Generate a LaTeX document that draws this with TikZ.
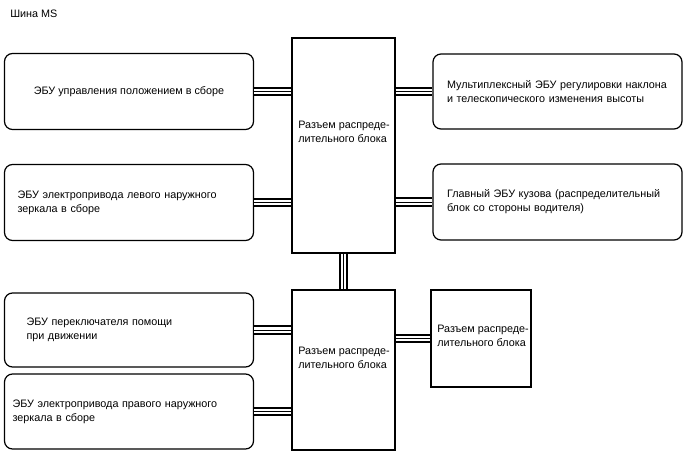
\documentclass[tikz,border=0pt]{standalone}
\usepackage{fontspec}
\setmainfont{Liberation Sans}
\usetikzlibrary{positioning}

\tikzset{
  ecu/.style={draw, line width=0.9pt, rounded corners=6pt, minimum width=186.75pt, minimum height=57pt, inner sep=0pt, align=left},
  hub/.style={draw, line width=0.9pt, minimum width=77.25pt, inner sep=0pt},
  bus/.style={line width=1.6pt, double distance=4.2pt},
  buswire/.style={line width=0.7pt},
  lbl/.style={inner sep=0pt, align=left, anchor=west},
}

\begin{document}
\begin{tikzpicture}[x=0.75pt, y=-0.75pt, every node/.style={font=\fontsize{8.1}{10.5}\selectfont}]
\useasboundingbox[fill=white] (0,0) rectangle (688,463);
\node[lbl] (title) at (10,14) {Шина MS};
% distribution block connectors
\node[hub, minimum height=161.25pt] (hubA) at (343.5,145.5) {};
\node[hub, minimum height=120pt] (hubB) at (343.5,370) {};
\node[hub, minimum width=75pt, minimum height=72.75pt] (hubC) at (481,338.5) {};
\node[lbl] (hubAtxt) at (298,132) {Разъем распреде-\\лительного блока};
\node[lbl] (hubBtxt) at (298,358) {Разъем распреде-\\лительного блока};
\node[lbl] (hubCtxt) at (437,336) {Разъем распреде-\\лительного блока};
% ECUs
\node[ecu, align=center] (ecuA) at (129,91.5) {ЭБУ управления положением в сборе};
\node[ecu, text width=167.25pt] (ecuD) at (129,202.5) {ЭБУ электропривода левого наружного\\зеркала в сборе};
\node[ecu, text width=153.75pt, minimum height=55.5pt] (ecuE) at (129,330) {ЭБУ переключателя помощи\\при движении};
\node[ecu, text width=174.75pt, minimum height=56.25pt] (ecuF) at (129,411.5) {ЭБУ электропривода правого наружного\\зеркала в сборе};
\node[ecu, text width=165.75pt, minimum height=56.25pt] (ecuB) at (557.5,91.5) {Мультиплексный ЭБУ регулировки наклона\\и телескопического изменения высоты};
\node[ecu, text width=165.75pt] (ecuC) at (557.5,202) {Главный ЭБУ кузова (распределительный\\блок со стороны водителя)};
% buses
\foreach \a/\b in {ecuA/hubA, ecuD/hubA, ecuE/hubB, ecuF/hubB}{
  \draw[bus] (\a.east) -- (\a.east -| \b.west);
  \draw[buswire] (\a.east) -- (\a.east -| \b.west);}
\foreach \a/\b in {hubA/ecuB, hubA/ecuC, hubB/hubC}{
  \draw[bus] (\b.west -| \a.east) -- (\b.west);
  \draw[buswire] (\b.west -| \a.east) -- (\b.west);}
\draw[bus] (hubA.south) -- (hubB.north);
\draw[buswire] (hubA.south) -- (hubB.north);
\end{tikzpicture}
\end{document}
